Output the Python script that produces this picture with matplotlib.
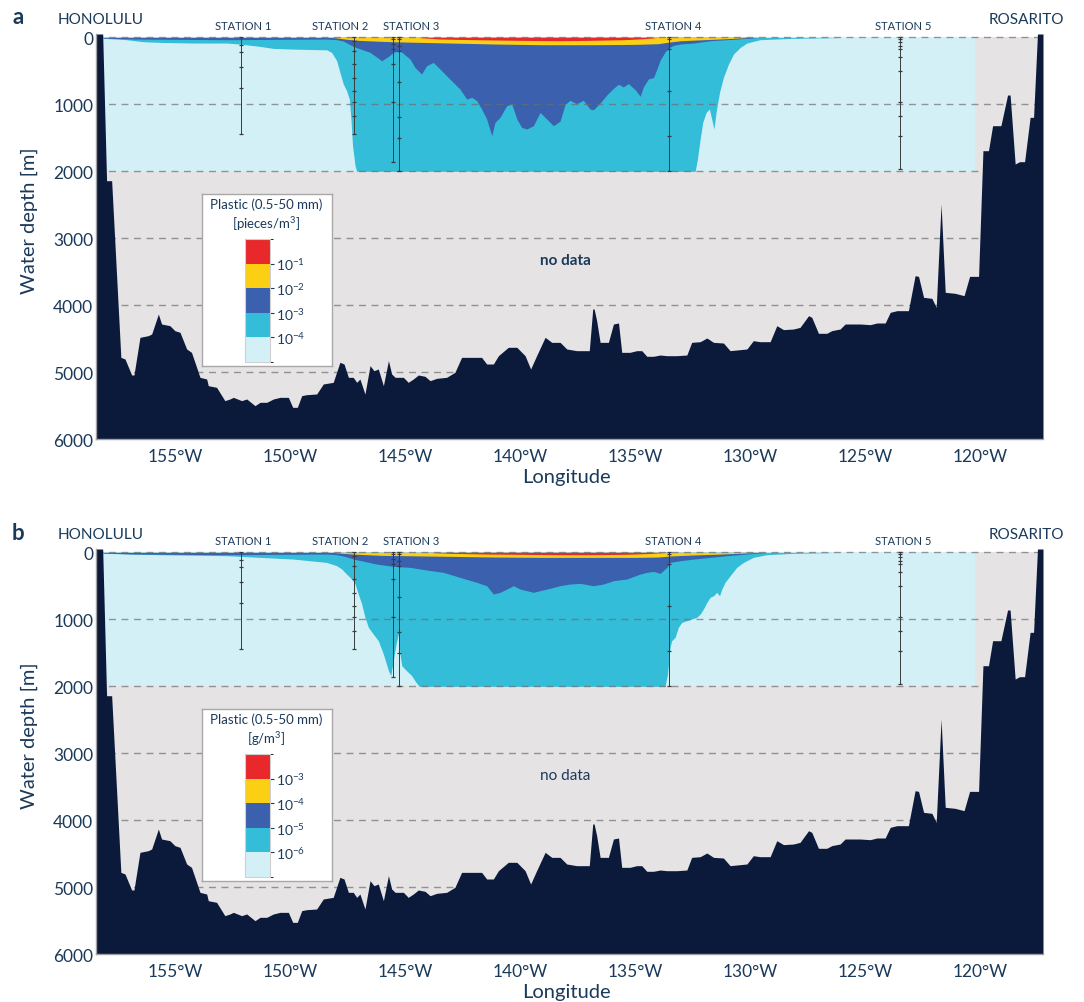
import matplotlib
matplotlib.use('Agg')
import matplotlib as mpl
import matplotlib.pyplot as plt
from matplotlib.colors import ListedColormap, BoundaryNorm

plt.rcParams['font.family'] = ['Lato', 'DejaVu Sans']
plt.rcParams['mathtext.default'] = 'regular'

# ---------------- data ----------------
# bathymetry (longitude, depth m)
bathy_lon = [-158.43, -158.14, -157.97, -157.75, -157.35, -157.17, -156.88, -156.78, -156.52, -156.16,
             -156.01, -155.72, -155.58, -155.22, -155.00, -154.78, -154.49, -154.28, -153.91, -153.62,
             -153.55, -153.19, -152.83, -152.61, -152.46, -152.10, -151.88, -151.52, -151.30, -151.01,
             -150.72, -150.43, -150.07, -149.88, -149.68, -149.49, -149.28, -148.84, -148.55, -148.12,
             -147.83, -147.65, -147.46, -147.25, -147.10, -146.96, -146.74, -146.52, -146.35, -146.16,
             -145.94, -145.72, -145.58, -145.43, -145.07, -144.86, -144.64, -144.42, -144.13, -143.91,
             -143.62, -143.19, -142.83, -142.54, -142.03, -141.67, -141.45, -141.16, -140.94, -140.51,
             -140.14, -139.78, -139.54, -139.28, -138.91, -138.62, -138.26, -137.97, -137.54, -137.10,
             -136.99, -136.84, -136.78, -136.67, -136.52, -136.16, -135.94, -135.72, -135.58, -135.22,
             -134.93, -134.71, -134.49, -134.20, -133.91, -133.62, -133.19, -132.75, -132.54, -132.17,
             -131.88, -131.59, -131.16, -130.87, -130.14, -129.86, -129.57, -129.13, -128.84, -128.55,
             -128.12, -127.83, -127.46, -127.32, -127.03, -126.67, -126.45, -126.09, -125.87, -125.22,
             -124.78, -124.49, -124.13, -123.91, -123.62, -123.12, -122.83, -122.68, -122.46, -122.10,
             -121.91, -121.70, -121.52, -121.09, -120.70, -120.46, -120.07, -119.88, -119.64, -119.46,
             -119.10, -118.81, -118.70, -118.48, -118.29, -118.07, -117.83, -117.68, -117.51, -117.27]
bathy_dep = [-50, -50, 2140, 2140, 4777, 4801, 5040, 5040, 4478, 4453,
             4428, 4130, 4279, 4304, 4379, 4403, 4652, 4702, 5075, 5100,
             5200, 5224, 5423, 5398, 5374, 5423, 5398, 5498, 5448, 5448,
             5398, 5374, 5374, 5523, 5523, 5349, 5334, 5324, 5174, 5150,
             4851, 4876, 5075, 5075, 5150, 5100, 5324, 4901, 4976, 4951,
             5200, 4826, 5025, 5075, 5075, 5150, 5100, 5040, 5060, 5125,
             5090, 5075, 5000, 4777, 4777, 4777, 4876, 4876, 4752, 4627,
             4627, 4752, 4951, 4752, 4478, 4553, 4553, 4652, 4677, 4677,
             4677, 4055, 4055, 4229, 4553, 4553, 4279, 4264, 4702, 4702,
             4677, 4677, 4761, 4761, 4742, 4752, 4752, 4742, 4553, 4543,
             4488, 4553, 4563, 4677, 4652, 4528, 4543, 4543, 4304, 4363,
             4354, 4329, 4155, 4180, 4418, 4418, 4378, 4354, 4279, 4279,
             4289, 4264, 4264, 4105, 4080, 4080, 3558, 3568, 3881, 3896,
             4030, 2488, 3806, 3821, 3856, 3568, 3568, 1692, 1692, 1319,
             1319, 861, 861, 1891, 1856, 1856, 1194, 1194, -50, -50]

data_lon = [-158.43, -120.22]
data_depth = 2000

# panel a: pieces/m3 class boundaries (bottom depth of each class)
a_cyan_lon = [-158.12, -157.10, -156.38, -155.65, -154.20, -152.75, -152.17, -151.30, -150.72, -149.86,
              -148.70, -148.41, -148.19, -147.97, -147.83, -147.68, -147.54, -147.42, -147.35, -147.28,
              -147.17, -147.10, -132.39, -132.29, -132.17, -132.06, -131.91, -131.77, -131.67, -131.57,
              -131.48, -131.33, -131.16, -130.94, -130.72, -130.43, -130.14, -129.57, -128.12, -126.38, -126.0]
a_cyan_dep = [15, 35, 65, 75, 85, 85, 100, 135, 165, 175,
              185, 185, 225, 348, 522, 697, 796, 921, 1219, 1617,
              1916, 2000, 2000, 1816, 1518, 1269, 1120, 1070, 1219, 1368,
              1120, 821, 597, 398, 249, 150, 85, 35, 15, 5, 0]
a_blue_lon = [-158.12, -156.81, -152.75, -148.41, -147.97, -147.68, -147.25, -146.52, -146.01, -145.72,
              -145.51, -145.22, -144.78, -144.57, -144.28, -144.06, -143.77, -143.48, -143.12, -142.61,
              -142.32, -142.10, -141.88, -141.67, -141.45, -141.23, -141.09, -140.87, -140.58, -140.36,
              -140.14, -139.93, -139.71, -139.42, -139.13, -138.84, -138.55, -138.26, -138.04, -137.83,
              -137.54, -137.25, -136.96, -136.81, -136.52, -136.23, -135.94, -135.72, -135.51, -135.29,
              -135.00, -134.78, -134.64, -134.42, -134.20, -134.06, -133.91, -133.70, -133.51, -133.33,
              -133.04, -132.46, -131.74, -131.01, -130.14, -129.57]
a_blue_dep = [10, 25, 35, 25, 35, 55, 135, 224, 349, 284,
              224, 199, 324, 448, 548, 423, 374, 473, 598, 772,
              921, 896, 946, 1070, 1219, 1468, 1269, 1194, 1020, 995,
              1219, 1344, 1368, 1319, 1120, 1219, 1319, 1250, 1000, 940,
              990, 940, 1070, 1080, 980, 860, 760, 700, 740, 690,
              780, 880, 740, 620, 600, 480, 340, 220, 150, 120,
              100, 85, 50, 35, 15, 0]
a_yel_lon = [-148.2, -147.5, -147.0, -146.0, -145.0, -143.0, -141.0, -139.0, -137.0, -135.0,
             -134.0, -133.5, -133.0, -132.0, -131.0, -130.0]
a_yel_dep = [0, 30, 45, 60, 70, 85, 100, 110, 110, 105, 95, 70, 50, 35, 20, 0]
a_red_lon = [-144.5, -143.5, -142.0, -140.0, -138.3, -137.0, -135.5, -134.6, -134.0]
a_red_dep = [0, 25, 35, 45, 50, 45, 35, 20, 0]

# panel b: g/m3 class boundaries
b_cyan_lon = [-158.12, -155.65, -152.75, -151.30, -149.86, -148.41, -147.97, -147.75, -147.54, -147.32,
              -147.17, -147.03, -146.88, -146.74, -146.59, -146.38, -146.16, -145.94, -145.72, -145.62,
              -145.51, -145.39, -145.29, -145.22, -145.14, -144.93, -144.71, -144.52, -144.38, -133.70,
              -133.59, -133.48, -133.41, -133.26, -133.12, -132.97, -132.75, -132.54, -132.32, -132.17,
              -132.03, -131.88, -131.74, -131.59, -131.45, -131.33, -131.23, -131.09, -130.87, -130.58,
              -130.29, -129.86, -129.28, -128.12, -126.67, -126.2]
b_cyan_dep = [15, 35, 50, 75, 100, 150, 199, 249, 324, 398,
              473, 622, 772, 971, 1120, 1219, 1319, 1518, 1767, 1841,
              1617, 1368, 1219, 1518, 1692, 1767, 1841, 1941, 2000, 2000,
              1816, 1418, 1319, 1269, 1120, 1045, 1020, 995, 971, 921,
              846, 747, 672, 647, 597, 647, 548, 448, 349, 224,
              150, 75, 35, 15, 5, 0]
b_blue_lon = [-158.12, -156.81, -152.75, -148.41, -147.97, -147.60, -147.25, -146.23, -145.51, -144.78,
              -144.06, -143.33, -142.61, -141.88, -141.45, -141.16, -140.87, -140.58, -140.29, -140.00,
              -139.71, -139.42, -139.13, -138.84, -138.55, -138.26, -137.83, -137.39, -136.81, -136.38,
              -135.94, -135.36, -134.78, -134.49, -134.20, -133.91, -133.62, -133.48, -133.04, -132.46,
              -131.01, -130.14, -129.28]
b_blue_dep = [10, 25, 35, 25, 35, 60, 100, 175, 209, 224,
              264, 299, 374, 448, 498, 622, 597, 548, 498, 548,
              572, 597, 572, 548, 523, 498, 473, 463, 498, 473,
              423, 398, 324, 299, 284, 314, 224, 150, 125, 100,
              50, 25, 0]
b_yel_lon = [-148.2, -147.5, -147.0, -146.0, -145.0, -143.0, -141.0, -139.0, -137.0, -135.0,
             -134.0, -133.5, -132.5, -131.5, -130.5, -129.6]
b_yel_dep = [0, 20, 30, 45, 50, 60, 70, 75, 75, 75, 70, 55, 40, 28, 15, 0]
b_red_lon = [-144.0, -143.0, -141.5, -140.0, -138.3, -137.0, -135.5, -134.4, -133.6]
b_red_dep = [0, 15, 25, 30, 35, 35, 30, 18, 0]

# stations
station_lon = [-152.13, -147.22, -145.50, -145.26, -133.51, -123.48]
station_samples = [[0, 115, 225, 440, 755, 1445],
                   [0, 50, 200, 400, 610, 795, 970, 1180, 1440],
                   [0, 25, 100, 175, 400, 970, 1855],
                   [0, 25, 125, 200, 670, 1195, 1495, 2000],
                   [0, 25, 175, 800, 1480, 2000],
                   [0, 25, 75, 125, 175, 300, 500, 965, 1180, 1475, 1960]]
label_names = ['STATION 1', 'STATION 2', 'STATION 3', 'STATION 4', 'STATION 5']
label_lon = [-152.04, -147.83, -144.75, -133.36, -123.33]

xtick_vals = [-155, -150, -145, -140, -135, -130, -125, -120]
xtick_labels = ['155°W', '150°W', '145°W', '140°W', '135°W', '130°W', '125°W', '120°W']
ytick_vals = [0, 1000, 2000, 3000, 4000, 5000, 6000]
grid_depths = [0, 1000, 2000, 3000, 4000, 5000]

class_colors = ['#d4f0f7', '#34bdd8', '#3a60ae', '#fbcf14', '#e8282b']
a_tick_labels = ['$10^{-4}$', '$10^{-3}$', '$10^{-2}$', '$10^{-1}$']
b_tick_labels = ['$10^{-6}$', '$10^{-5}$', '$10^{-4}$', '$10^{-3}$']

# ---------------- style ----------------
NAVY = '#0b1a3b'
TXT = '#1b3a5a'
GREY = '#e5e3e3'

fig = plt.figure(figsize=(10.84, 10.03), dpi=100)
W, H = 1084.0, 1003.0


def draw_panel(ax, cyan, blue, yel, red, letter, units, ticklabels, dy, nodata_weight):
    ax.set_facecolor('white')
    ax.axhspan(0, 6000, color=GREY, zorder=0, lw=0)
    ax.fill_between(data_lon, 0, data_depth, color=class_colors[0], lw=0, zorder=1)
    ax.fill_between(cyan[0], 0, cyan[1], color=class_colors[1], lw=0, zorder=2)
    ax.fill_between(blue[0], 0, blue[1], color=class_colors[2], lw=0, zorder=3)
    ax.fill_between(yel[0], 0, yel[1], color=class_colors[3], lw=0, zorder=4)
    ax.fill_between(red[0], 0, red[1], color=class_colors[4], lw=0, zorder=5)
    for d in grid_depths:
        ax.axhline(d, color='#6e6e6e', lw=1.0, ls=(0, (5, 4)), alpha=0.7, zorder=6)
    for lon, samp in zip(station_lon, station_samples):
        ax.plot([lon, lon], [0, max(samp)], color='#3a3a3a', lw=0.7, zorder=7)
        ax.plot([lon] * len(samp), samp, ls='none', marker='_', ms=3, mew=0.9,
                color='#3a3a3a', zorder=7)
    ax.fill_between(bathy_lon, bathy_dep, 6000, color=NAVY, lw=0, zorder=8)

    ax.set_xlim(-158.43, -117.27)
    ax.set_ylim(6000, -50)
    ax.set_xticks(xtick_vals)
    ax.set_xticklabels(xtick_labels)
    ax.set_yticks(ytick_vals)
    ax.tick_params(axis='both', length=0, labelsize=12.5, colors=TXT)
    ax.tick_params(axis='x', pad=6)
    ax.tick_params(axis='y', pad=2)
    for s in ['top', 'right']:
        ax.spines[s].set_visible(False)
    for s in ['left', 'bottom']:
        ax.spines[s].set_color('#a0a0a0')
        ax.spines[s].set_linewidth(1.0)
        ax.spines[s].set_zorder(9)
    ax.set_ylabel('Water depth [m]', fontsize=14.5, color=TXT, va='center')
    ax.yaxis.set_label_coords(-0.070, 0.543)
    ax.set_xlabel('Longitude', fontsize=14.5, color=TXT, va='center')
    ax.xaxis.set_label_coords(0.497, -0.093)

    for name, lon in zip(label_names, label_lon):
        ax.text(lon, -175, name, fontsize=8, color=TXT, ha='center', va='center', clip_on=False)
    ax.text(-158.22, -270, 'HONOLULU', fontsize=11, color=TXT, ha='center', va='center', clip_on=False)
    ax.text(-118.0, -275, 'ROSARITO', fontsize=11, color=TXT, ha='center', va='center', clip_on=False)
    ax.text(-138.04, 3330, 'no data', fontsize=11, color=TXT, ha='center', va='center',
            fontweight=nodata_weight, zorder=10)
    fig.text(18 / W, 1 - (18 + dy) / H, letter, fontsize=16, fontweight='bold', color=TXT,
             ha='center', va='center')

    # legend box
    bx = fig.add_axes([201.7 / W, 1 - (366.7 + dy) / H, 130 / W, 171.7 / H])
    bx.set_facecolor('white')
    bx.set_xticks([])
    bx.set_yticks([])
    for s in bx.spines.values():
        s.set_color('#a8a8a8')
        s.set_linewidth(1.0)
    fig.text(266.5 / W, 1 - (205 + dy) / H, 'Plastic (0.5-50 mm)', fontsize=9.5, color=TXT,
             ha='center', va='center')
    fig.text(266.5 / W, 1 - (224 + dy) / H, units, fontsize=9.5, color=TXT,
             ha='center', va='center')
    cax = fig.add_axes([245 / W, 1 - (362.7 + dy) / H, 25 / W, 122.7 / H])
    cmap = ListedColormap(class_colors)
    norm = BoundaryNorm([0, 1, 2, 3, 4, 5], cmap.N)
    cb = mpl.colorbar.ColorbarBase(cax, cmap=cmap, norm=norm, orientation='vertical',
                                   ticks=[1, 2, 3, 4])
    cb.set_ticklabels(ticklabels)
    cb.outline.set_edgecolor('#d0d0d0')
    cb.outline.set_linewidth(0.8)
    cax.tick_params(length=3, width=0.8, colors=TXT, labelsize=10, pad=1)


ax_a = fig.add_axes([96 / W, 1 - 440.3 / H, 947 / W, 405.3 / H])
draw_panel(ax_a, (a_cyan_lon, a_cyan_dep), (a_blue_lon, a_blue_dep), (a_yel_lon, a_yel_dep),
           (a_red_lon, a_red_dep), 'a', '[pieces/m$^{3}$]', a_tick_labels, 0, 'bold')
ax_b = fig.add_axes([96 / W, 1 - 955.3 / H, 947 / W, 405.3 / H])
draw_panel(ax_b, (b_cyan_lon, b_cyan_dep), (b_blue_lon, b_blue_dep), (b_yel_lon, b_yel_dep),
           (b_red_lon, b_red_dep), 'b', '[g/m$^{3}$]', b_tick_labels, 515, 'normal')

fig.savefig('out.png', dpi=100)
